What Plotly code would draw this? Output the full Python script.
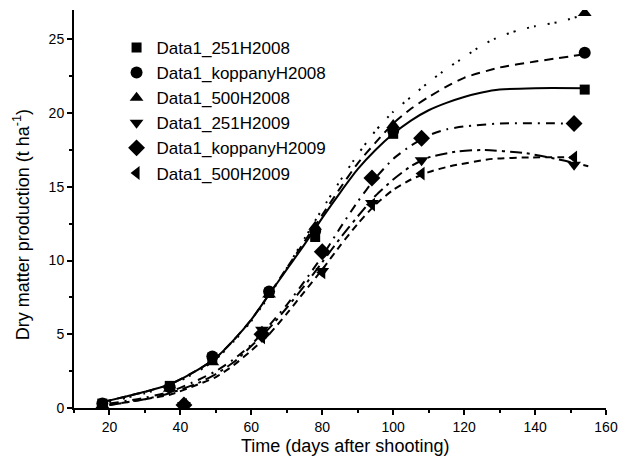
import plotly.graph_objects as go

# Measured data points
days_2008 = [18, 37, 49, 65, 78, 100, 154]
days_2009 = [41, 63, 80, 94, 108, 151]

dm_251H2008 = [0.3, 1.5, 3.4, 7.8, 11.6, 18.6, 21.6]
dm_koppanyH2008 = [0.3, 1.4, 3.5, 7.9, 12.0, 18.8, 24.1]
dm_500H2008 = [0.2, 1.3, 3.1, 7.7, 12.3, 19.2, 26.8]
dm_251H2009 = [0.2, 5.3, 9.3, 13.9, 16.8, 16.5]
dm_koppanyH2009 = [0.2, 5.0, 10.6, 15.6, 18.3, 19.3]
dm_500H2009 = [0.2, 4.8, 9.2, 13.8, 15.9, 17.0]

# Fitted curves
fit_x_251H2008 = [18, 25, 30, 37, 45, 50, 55, 60, 65, 70, 75, 80, 85, 90, 95, 100, 105, 110, 115, 120, 125, 130, 140, 154]
fit_y_251H2008 = [0.4, 0.8, 1.1, 1.6, 2.6, 3.4, 4.6, 6.0, 7.7, 9.4, 11.1, 12.9, 14.6, 16.2, 17.5, 18.6, 19.5, 20.2, 20.7, 21.1, 21.4, 21.6, 21.7, 21.7]

fit_x_koppanyH2008 = [18, 25, 30, 37, 45, 50, 55, 60, 65, 70, 75, 80, 85, 90, 95, 100, 105, 110, 115, 120, 130, 140, 154]
fit_y_koppanyH2008 = [0.4, 0.8, 1.1, 1.6, 2.6, 3.4, 4.6, 6.0, 7.7, 9.5, 11.3, 13.1, 14.9, 16.6, 18.0, 19.3, 20.3, 21.1, 21.8, 22.4, 23.1, 23.5, 24.0]

fit_x_500H2008 = [18, 25, 30, 37, 45, 50, 55, 60, 65, 70, 75, 80, 85, 90, 95, 100, 105, 110, 115, 120, 125, 130, 135, 140, 147, 154]
fit_y_500H2008 = [0.3, 0.7, 1.0, 1.5, 2.5, 3.3, 4.5, 5.9, 7.6, 9.5, 11.5, 13.5, 15.4, 17.2, 18.8, 20.1, 21.1, 22.1, 23.0, 23.8, 24.6, 25.2, 25.6, 25.9, 26.2, 26.7]

fit_x_251H2009 = [20, 30, 37, 45, 50, 55, 60, 65, 70, 75, 80, 85, 90, 95, 100, 105, 110, 118, 125, 137, 146, 155]
fit_y_251H2009 = [0.2, 0.6, 1.0, 1.7, 2.3, 3.1, 4.2, 5.4, 6.8, 8.3, 9.9, 11.5, 13.0, 14.4, 15.5, 16.4, 17.0, 17.4, 17.5, 17.3, 16.9, 16.4]

fit_x_koppanyH2009 = [20, 30, 37, 45, 50, 55, 60, 65, 70, 75, 80, 85, 90, 95, 100, 105, 110, 115, 120, 130, 151]
fit_y_koppanyH2009 = [0.3, 0.7, 1.1, 1.9, 2.5, 3.3, 4.3, 5.6, 7.0, 8.6, 10.3, 12.2, 14.0, 15.6, 16.9, 17.8, 18.5, 18.9, 19.1, 19.3, 19.3]

fit_x_500H2009 = [20, 30, 37, 45, 50, 55, 60, 65, 70, 75, 80, 85, 90, 95, 100, 105, 110, 116, 128, 139, 151]
fit_y_500H2009 = [0.2, 0.6, 0.9, 1.6, 2.1, 2.9, 3.9, 5.0, 6.4, 7.9, 9.4, 11.0, 12.5, 13.8, 14.8, 15.5, 16.0, 16.4, 16.9, 17.0, 17.0]

x_ticks = [20, 40, 60, 80, 100, 120, 140, 160]
y_ticks = [0, 5, 10, 15, 20, 25]

series = [
    ("Data1_251H2008", days_2008, dm_251H2008, fit_x_251H2008, fit_y_251H2008, "square", "solid", 10),
    ("Data1_koppanyH2008", days_2008, dm_koppanyH2008, fit_x_koppanyH2008, fit_y_koppanyH2008, "circle", "9px,6px", 12),
    ("Data1_500H2008", days_2008, dm_500H2008, fit_x_500H2008, fit_y_500H2008, "triangle-up", "2px,5px,2px,12px", 12),
    ("Data1_251H2009", days_2009, dm_251H2009, fit_x_251H2009, fit_y_251H2009, "triangle-down", "12px,5px,3px,5px", 12),
    ("Data1_koppanyH2009", days_2009, dm_koppanyH2009, fit_x_koppanyH2009, fit_y_koppanyH2009, "diamond", "9px,6px,2px,6px", 13),
    ("Data1_500H2009", days_2009, dm_500H2009, fit_x_500H2009, fit_y_500H2009, "triangle-left", "7px,5px", 12),
]

fig = go.Figure()
for name, dx, dy, fx, fy, sym, dash, msize in series:
    fig.add_trace(go.Scatter(x=fx, y=fy, mode="lines",
                             line=dict(color="black", width=2, dash=dash, shape="spline", smoothing=0.6),
                             showlegend=False, hoverinfo="skip"))
for name, dx, dy, fx, fy, sym, dash, msize in series:
    fig.add_trace(go.Scatter(x=dx, y=dy, mode="markers", name=name,
                             marker=dict(symbol=sym, size=msize, color="black")))

axis_common = dict(showline=True, linecolor="black", linewidth=2, ticks="outside", ticklen=5, tickwidth=2,
                   tickcolor="black", showgrid=False, zeroline=False, ticklabeloverflow="allow",
                   tickfont=dict(family="Liberation Sans, Arial", size=14, color="black"))

fig.update_layout(
    width=628, height=458,
    margin=dict(l=74, r=15, t=10, b=50),
    paper_bgcolor="white", plot_bgcolor="white",
    font=dict(family="Liberation Sans, Arial", color="black"),
    xaxis=dict(range=[10, 160], tickvals=x_ticks,
               minor=dict(ticks="outside", dtick=10, tick0=10, ticklen=3, tickwidth=2, tickcolor="black"),
               **axis_common),
    yaxis=dict(range=[0, 27], tickvals=y_ticks,
               minor=dict(ticks="outside", dtick=2.5, ticklen=3, tickwidth=2, tickcolor="black"),
               **axis_common),
    legend=dict(x=0.08, y=0.95, xanchor="left", yanchor="top", bgcolor="rgba(0,0,0,0)",
                font=dict(size=17, family="Liberation Sans, Arial"), itemwidth=30, tracegroupgap=0),
    annotations=[
        dict(text="Time (days after shooting)", xref="paper", yref="paper", x=0.51, y=-0.095,
             xanchor="center", yanchor="middle", showarrow=False, font=dict(size=18)),
        dict(text="Dry matter production (t ha<sup>-1</sup>)", xref="paper", yref="paper",
             x=-0.097, y=0.46, xanchor="center", yanchor="middle", textangle=-90,
             showarrow=False, font=dict(size=18)),
    ],
)

fig.write_html("out.html", config={"displayModeBar": False},
               post_script="document.body.style.margin='0px';")
